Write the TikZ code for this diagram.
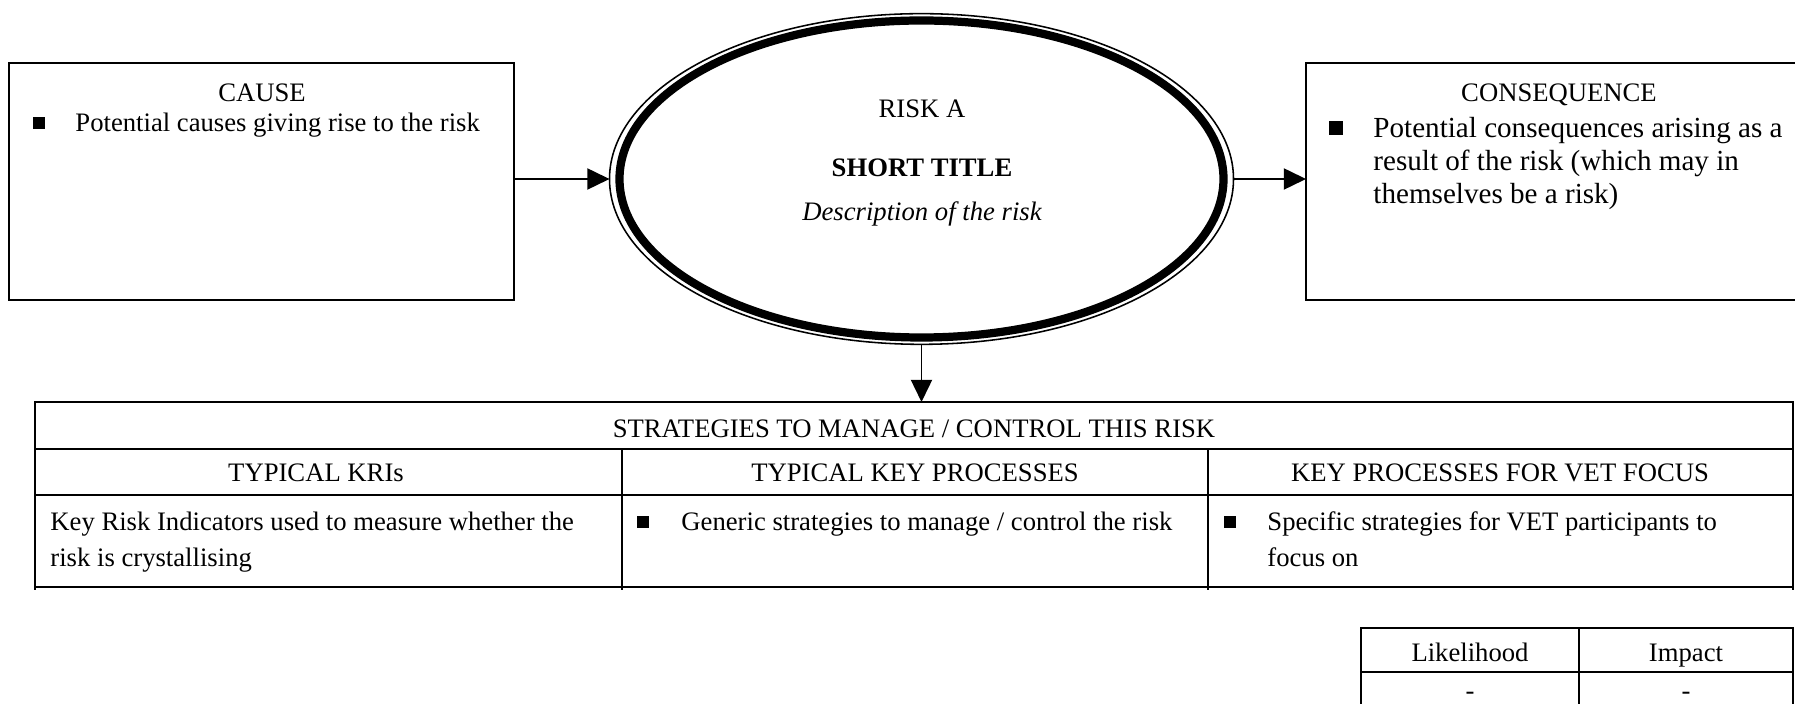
\documentclass[tikz,border=0pt]{standalone}
\usepackage{fontspec}
\setmainfont{Liberation Serif}
\usetikzlibrary{arrows.meta,shapes.geometric}
\begin{document}
\begin{tikzpicture}[x=0.45pt,y=-0.45pt,
  txt/.style={inner sep=0pt, font=\fontsize{12}{14}\selectfont},
  bigtxt/.style={inner sep=0pt, font=\fontsize{13.1}{16}\selectfont},
  box/.style={draw, line width=0.7pt, inner sep=0pt, outer sep=0pt, anchor=north west},
  gridline/.style={line width=0.8pt},
  arr/.style={line width=0.85pt, -{Triangle[length=10pt,width=9.5pt]}},
  bullet/.style={fill, inner sep=0pt, minimum size=5.2pt},
  bigbullet/.style={fill, inner sep=0pt, minimum size=6pt}]
\useasboundingbox (0,0) rectangle (1795,704);
\clip (0,0) rectangle (1795,704);

% cause box
\node[box, minimum width=227.25pt, minimum height=106.65pt] (cause) at (9,63) {};
\node[txt, anchor=base] (causehead) at (262,102) {CAUSE};
\node[bullet] (causebul) at (39,123) {};
\node[txt, anchor=base west] (causetext) at (75,132) {Potential causes giving rise to the risk};

% the risk itself: thin outer ellipse with a heavy inner ring
\node[ellipse, draw, line width=0.7pt, minimum width=280.8pt, minimum height=148.8pt,
      inner sep=0pt, outer sep=0pt] (risk) at (921.5,179) {};
\draw[line width=3.7pt] (risk.center) ellipse [x radius=302, y radius=158.5];
\node[txt, anchor=base] (riskname) at (922,118) {RISK A};
\node[txt, anchor=base, font=\fontsize{12}{14}\selectfont\bfseries] (risktitle) at (922,177) {SHORT TITLE};
\node[txt, anchor=base, font=\fontsize{12}{14}\selectfont\itshape] (riskdesc) at (922,221) {Description of the risk};

% consequence box
\node[box, minimum width=232pt, minimum height=106.65pt] (cons) at (1306,63) {};
\node[txt, anchor=base] (conshead) at (1559,102) {CONSEQUENCE};
\node[bigbullet] (consbul) at (1336,128) {};
\node[bigtxt, anchor=base west] (consa) at (1373,138) {Potential consequences arising as a};
\node[bigtxt, anchor=base west] (consb) at (1373,171) {result of the risk (which may in};
\node[bigtxt, anchor=base west] (consc) at (1373,204) {themselves be a risk)};

% strategies table
\node[draw, gridline, anchor=north west, inner sep=0pt, outer sep=0pt,
      minimum width=791.1pt, minimum height=83.25pt] (strat) at (35,402) {};
\draw[gridline] (35,449) -- (1793,449);
\draw[gridline] (35,495) -- (1793,495);
\draw[gridline] (622,449) -- (622,590);
\draw[gridline] (1208,449) -- (1208,590);
\draw[gridline] (35,587) -- (35,590);
\draw[gridline] (1793,587) -- (1793,590);
\node[txt, anchor=base] (strathead) at (914,438) {STRATEGIES TO MANAGE / CONTROL THIS RISK};
\node[txt, anchor=base] (krihead) at (316,482) {TYPICAL KRIs};
\node[txt, anchor=base] (prochead) at (915,482) {TYPICAL KEY PROCESSES};
\node[txt, anchor=base] (vethead) at (1500,482) {KEY PROCESSES FOR VET FOCUS};
\node[txt, anchor=base west] (kria) at (50,531) {Key Risk Indicators used to measure whether the};
\node[txt, anchor=base west] (krib) at (50,567) {risk is crystallising};
\node[bullet] (procbul) at (643,522) {};
\node[txt, anchor=base west] (proctext) at (681,531) {Generic strategies to manage / control the risk};
\node[bullet] (vetbul) at (1230,522) {};
\node[txt, anchor=base west] (veta) at (1267,531) {Specific strategies for VET participants to};
\node[txt, anchor=base west] (vetb) at (1267,567) {focus on};

% rating table
\node[draw, gridline, anchor=north west, inner sep=0pt, outer sep=0pt,
      minimum width=194.4pt, minimum height=45pt] (rating) at (1361,628) {};
\draw[gridline] (1361,672) -- (1793,672);
\draw[gridline] (1579,628) -- (1579,728);
\node[txt, anchor=base] (likehead) at (1470,662) {Likelihood};
\node[txt, anchor=base] (imphead) at (1686,662) {Impact};
\node[txt, anchor=base] (likeval) at (1470,700) {-};
\node[txt, anchor=base] (impval) at (1686,700) {-};

% connectors
\draw[arr] (cause.east |- risk.west) -- (risk.west);
\draw[arr] (risk.east) -- (risk.east -| cons.west);
\draw[arr] (risk.south) -- (risk.south |- strat.north);
\end{tikzpicture}
\end{document}
